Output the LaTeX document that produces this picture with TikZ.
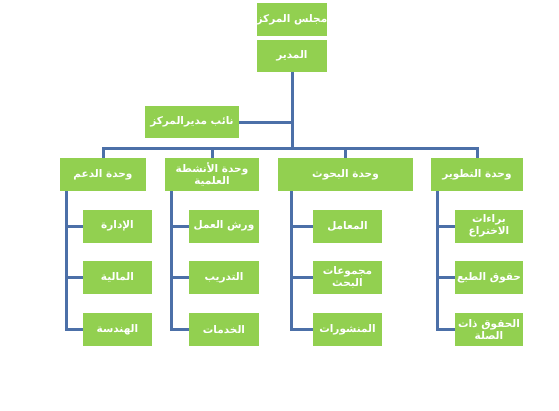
\documentclass[tikz,border=0pt]{standalone}
\usepackage{fontspec}
\newfontfamily\arabicfont[Script=Arabic]{DejaVu Sans}
\TeXXeTstate=1
\usepackage{tikz}
\usetikzlibrary{positioning,calc}
\definecolor{boxgreen}{RGB}{146,208,80}
\definecolor{lineblue}{RGB}{76,112,168}
\newcommand{\artext}[1]{\beginR #1\endR}
\tikzset{
  ublock/.style={rectangle, fill=boxgreen, text=white, align=center, inner sep=0pt,
    font=\arabicfont\bfseries\fontsize{10.5}{10}\selectfont, minimum height=33pt},
  tline/.style={draw=lineblue, line width=3pt}
}

\begin{document}
\begin{tikzpicture}[x=1pt,y=-1pt]
  \useasboundingbox (0,0) rectangle (559,410);
  % top of the chart
  \node[ublock, minimum width=70pt] (board) at (292,19.5) {\artext{مجلس المركز}};
  \node[ublock, minimum width=70pt, minimum height=32pt] (director) at (292,56) {\artext{المدير}};
  \node[ublock, minimum width=94pt, minimum height=32pt] (deputy) at (192,122) {\artext{نائب مديرالمركز}};
  \coordinate (bus) at (292,148);
  % units
  \node[ublock, minimum width=86pt] (support) at (103,174.5) {\artext{وحدة الدعم}};
  \node[ublock, minimum width=94pt] (activities) at (212,174.5) {\artext{وحدة الأنشطة}\\\artext{العلمية}};
  \node[ublock, minimum width=135pt] (research) at (345.5,174.5) {\artext{وحدة البحوث}};
  \node[ublock, minimum width=92pt] (development) at (477,174.5) {\artext{وحدة التطوير}};
  % sections
  \node[ublock, minimum width=69pt] (admin) at (117.5,226) {\artext{الإدارة}};
  \node[ublock, minimum width=69pt] (finance) at (117.5,277.5) {\artext{المالية}};
  \node[ublock, minimum width=69pt] (engineering) at (117.5,329.5) {\artext{الهندسة}};
  \node[ublock, minimum width=70pt] (workshops) at (224,226) {\artext{ورش العمل}};
  \node[ublock, minimum width=70pt] (training) at (224,277.5) {\artext{التدريب}};
  \node[ublock, minimum width=70pt] (services) at (224,329.5) {\artext{الخدمات}};
  \node[ublock, minimum width=69pt] (labs) at (347.5,226) {\artext{المعامل}};
  \node[ublock, minimum width=69pt] (groups) at (347.5,277.5) {\artext{مجموعات}\\\artext{البحث}};
  \node[ublock, minimum width=69pt] (publications) at (347.5,329.5) {\artext{المنشورات}};
  \node[ublock, minimum width=68pt] (patents) at (489,226) {\artext{براءات}\\\artext{الاختراع}};
  \node[ublock, minimum width=68pt] (copyright) at (489,277.5) {\artext{حقوق الطبع}};
  \node[ublock, minimum width=68pt] (related) at (489,329.5) {\artext{الحقوق ذات}\\\artext{الصلة}};

  % connectors
  \draw[tline] (director.south) -- (bus);
  \draw[tline] (deputy.east) -- (deputy.east -| director.south);
  \draw[tline] (support.north) |- (bus) -| (development.north);
  \draw[tline] (activities.north) -- (activities.north |- bus);
  \draw[tline] (research.north) -- (research.north |- bus);
  \foreach \p/\o/\a/\b/\c in {support/7/admin/finance/engineering,
      activities/7/workshops/training/services,
      research/14/labs/groups/publications,
      development/7/patents/copyright/related}{
    \coordinate (\p-t) at ([xshift=\o pt]\p.south west);
    \draw[tline] (\p-t) |- (\c.west);
    \draw[tline] (\a.west) -- (\a.west -| \p-t);
    \draw[tline] (\b.west) -- (\b.west -| \p-t);
  }
\end{tikzpicture}
\end{document}
